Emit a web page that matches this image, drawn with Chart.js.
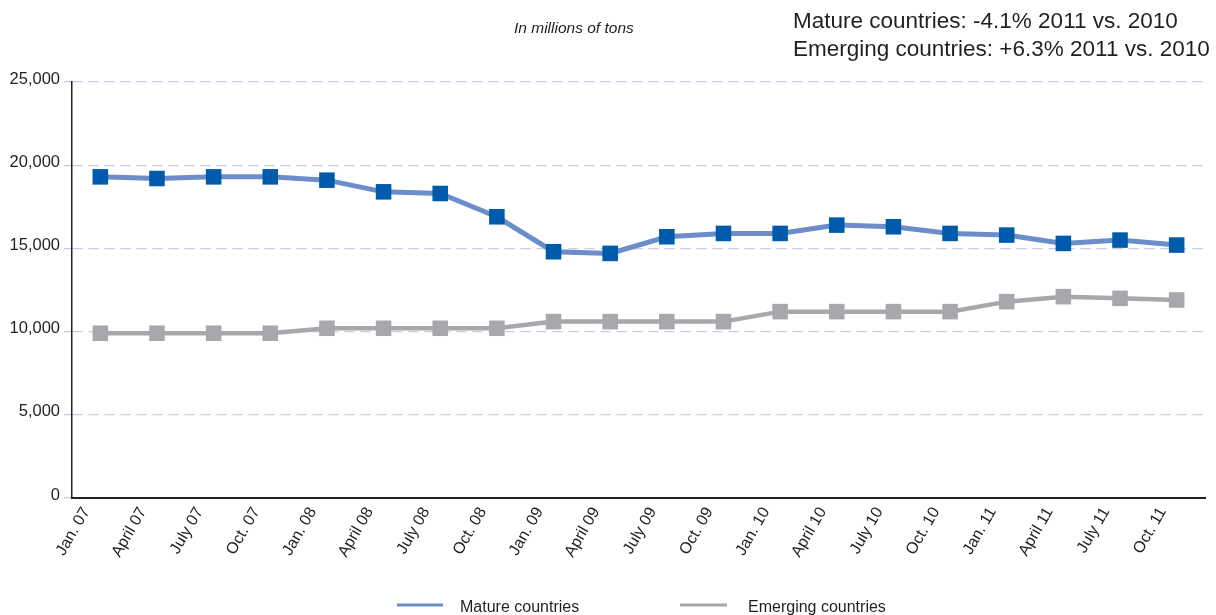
<!DOCTYPE html>
<html>
<head>
<meta charset="utf-8">
<script src="https://cdn.jsdelivr.net/npm/chart.js@4.4.1/dist/chart.umd.min.js"></script>
<style>
  html, body { margin: 0; padding: 0; background: #ffffff; }
  #wrap { width: 1216px; height: 615px; position: relative; }
</style>
</head>
<body>
<div id="wrap"><canvas id="c" width="1216" height="615"></canvas></div>
<script>
const categories = ["Jan. 07","April 07","July 07","Oct. 07","Jan. 08","April 08","July 08","Oct. 08","Jan. 09","April 09","July 09","Oct. 09","Jan. 10","April 10","July 10","Oct. 10","Jan. 11","April 11","July 11","Oct. 11"];
const matureValues = [19300,19200,19300,19300,19100,18400,18300,16900,14800,14700,15700,15900,15900,16400,16300,15900,15800,15300,15500,15200];
const emergingValues = [9900,9900,9900,9900,10200,10200,10200,10200,10600,10600,10600,10600,11200,11200,11200,11200,11800,12100,12000,11900];
const seriesNames = ["Mature countries","Emerging countries"];
const unitNote = "In millions of tons";
const headline = ["Mature countries: -4.1% 2011 vs. 2010","Emerging countries: +6.3% 2011 vs. 2010"];

const FONT = "'Liberation Sans', Arial, sans-serif";
const TEXT = "#231F20";
const BLUE_LINE = "#6B8DC9";
const BLUE_MARK = "#005BAC";
const GRAY = "#A7A8AB";

const overlay = {
  id: 'overlay',
  afterDraw(chart) {
    const ctx = chart.ctx;
    ctx.save();
    ctx.fillStyle = TEXT;
    ctx.textBaseline = 'alphabetic';
    ctx.font = "italic 15.5px " + FONT;
    ctx.textAlign = 'left';
    ctx.fillText(unitNote, 514, 33);
    ctx.font = "22.5px " + FONT;
    ctx.fillText(headline[0], 793, 28);
    ctx.fillText(headline[1], 793, 56);
    ctx.font = "16px " + FONT;
    ctx.lineWidth = 3;
    ctx.strokeStyle = BLUE_LINE;
    ctx.beginPath(); ctx.moveTo(397, 605); ctx.lineTo(443, 605); ctx.stroke();
    ctx.strokeStyle = GRAY;
    ctx.beginPath(); ctx.moveTo(680, 605); ctx.lineTo(727, 605); ctx.stroke();
    ctx.fillText(seriesNames[0], 460, 612);
    ctx.fillText(seriesNames[1], 748, 612);
    ctx.restore();
  }
};

new Chart(document.getElementById('c'), {
  type: 'line',
  data: {
    labels: categories,
    datasets: [
      {
        label: seriesNames[0],
        data: matureValues,
        borderColor: BLUE_LINE,
        borderWidth: 5,
        pointStyle: 'rect',
        pointRadius: 11,
        pointBackgroundColor: BLUE_MARK,
        pointBorderColor: BLUE_MARK,
        pointBorderWidth: 0,
        tension: 0,
        fill: false
      },
      {
        label: seriesNames[1],
        data: emergingValues,
        borderColor: GRAY,
        borderWidth: 4.5,
        pointStyle: 'rect',
        pointRadius: 11,
        pointBackgroundColor: GRAY,
        pointBorderColor: GRAY,
        pointBorderWidth: 0,
        tension: 0,
        fill: false
      }
    ]
  },
  options: {
    responsive: false,
    animation: false,
    events: [],
    layout: { padding: { top: 82, left: 0, right: 9, bottom: 0 } },
    plugins: { legend: { display: false }, tooltip: { enabled: false }, title: { display: false } },
    scales: {
      x: {
        offset: true,
        grid: { display: false, drawTicks: false },
        border: { display: true, color: TEXT, width: 2 },
        ticks: {
          color: TEXT,
          font: { family: FONT, size: 16 },
          maxRotation: 60,
          minRotation: 60,
          autoSkip: false,
          padding: 6,
          labelOffset: -14
        },
        afterFit(scale) { scale.height = 117; }
      },
      y: {
        min: 0,
        max: 25000,
        grid: {
          color: "#C5CDE8",
          lineWidth: 1.3,
          drawTicks: true,
          tickLength: 8,
          tickColor: "#C5CDE8",
          tickBorderDash: [10, 6]
        },
        border: { display: true, color: TEXT, width: 1.5, dash: [10, 6] },
        ticks: {
          stepSize: 5000,
          color: TEXT,
          font: { family: FONT, size: 16.5 },
          padding: 4,
          labelOffset: -3,
          callback: (v) => v.toLocaleString('en-US')
        },
        afterFit(scale) { scale.width = 72; }
      }
    }
  },
  plugins: [overlay]
});
</script>
</body>
</html>
